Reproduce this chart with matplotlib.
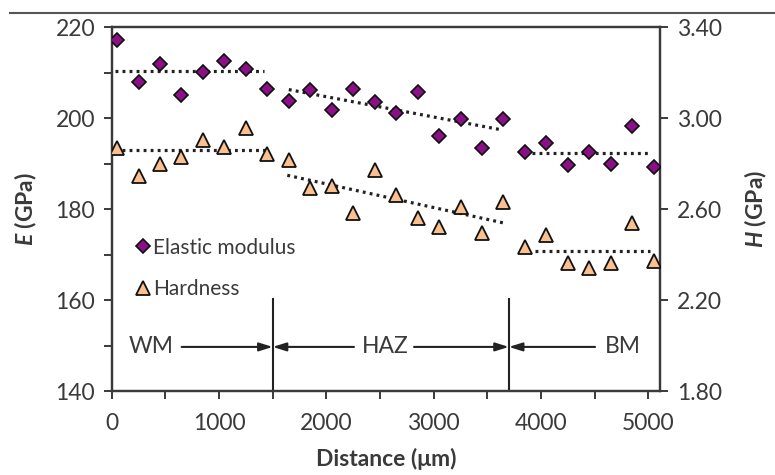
import matplotlib
matplotlib.use("Agg")
import matplotlib.pyplot as plt
from matplotlib.lines import Line2D
from matplotlib.ticker import MultipleLocator, FixedLocator

plt.rcParams['font.family'] = ['Lato', 'DejaVu Sans']
plt.rcParams['mathtext.fontset'] = 'custom'
plt.rcParams['mathtext.it'] = 'Lato:italic:bold'
plt.rcParams['mathtext.rm'] = 'Lato:bold'

# ---- data ----
distance = [50, 250, 450, 650, 850, 1050, 1250, 1450, 1650, 1850, 2050, 2250, 2450,
            2650, 2850, 3050, 3250, 3450, 3650, 3850, 4050, 4250, 4450, 4650, 4850, 5050]
modulus = [217.3, 208.0, 211.9, 205.1, 210.2, 212.6, 210.9, 206.5, 203.7, 206.2, 201.8,
           206.5, 203.6, 201.2, 205.8, 196.0, 199.8, 193.5, 199.8, 192.6, 194.6, 189.7,
           192.6, 190.0, 198.2, 189.3]
hardness = [2.87, 2.745, 2.798, 2.83, 2.906, 2.874, 2.955, 2.842, 2.816, 2.691, 2.70,
            2.581, 2.771, 2.662, 2.559, 2.522, 2.608, 2.493, 2.632, 2.432, 2.486, 2.364,
            2.34, 2.364, 2.54, 2.372]

# trend lines (x-start, x-end, y-start, y-end)
mod_trends = [(30, 1420, 210.4, 210.4), (1650, 3620, 206.3, 197.5), (3913, 5015, 192.45, 192.45)]
hard_trends = [(30, 1434, 2.859, 2.859), (1636, 3674, 2.749, 2.537), (3944, 5015, 2.415, 2.415)]

boundaries = [1500, 3700]
zones = ['WM', 'HAZ', 'BM']
zone_text_x = [367, 2547, 4766]

x_ticks = [0, 1000, 2000, 3000, 4000, 5000]
e_ticks = [140, 160, 180, 200, 220]
h_ticks = [1.80, 2.20, 2.60, 3.00, 3.40]

# ---- style ----
dark = '#3a3a3a'
purple = '#8B0F86'
peach = '#FAC090'
fs = 16.5

fig = plt.figure(figsize=(7.75, 4.75), dpi=100)
ax = fig.add_axes([0.1441, 0.1768, 0.7075, 0.7657])
ax2 = ax.twinx()

ax.set_xlim(0, 5108)
ax.set_ylim(140, 220)
ax2.set_ylim(1.80, 3.40)

# dotted trend lines
for x0, x1, y0, y1 in mod_trends:
    ax2.plot([x0, x1], [1.8 + (y0 - 140) * 0.02, 1.8 + (y1 - 140) * 0.02],
             color='#222222', lw=2.3, ls=(0, (0.9, 1.3)), zorder=2)
for x0, x1, y0, y1 in hard_trends:
    ax2.plot([x0, x1], [y0, y1], color='#222222', lw=2.3, ls=(0, (0.9, 1.3)), zorder=2)

ax2.plot(distance, hardness, ls='none', marker='^', ms=9.5, mfc=peach, mec='#111111',
         mew=1.3, zorder=3)
modulus_h = [1.8 + (m - 140) * 0.02 for m in modulus]  # same position on the twin scale
ax2.plot(distance, modulus_h, ls='none', marker='D', ms=6.8, mfc=purple, mec='#111111',
         mew=1.2, zorder=4)

# zone boundaries
for b in boundaries:
    ax.plot([b, b], [140, 160.3], color='#222222', lw=1.5, zorder=2)

arrow_kw = dict(arrowstyle='-|>,head_length=0.8,head_width=0.25', lw=1.5,
                color='#222222', shrinkA=0, shrinkB=0)
ay = 149.7
ax.annotate('', xy=(boundaries[0], ay), xytext=(652, ay), arrowprops=arrow_kw)
ax.annotate('', xy=(boundaries[0], ay), xytext=(2257, ay), arrowprops=arrow_kw)
ax.annotate('', xy=(boundaries[1], ay), xytext=(2817, ay), arrowprops=arrow_kw)
ax.annotate('', xy=(boundaries[1], ay), xytext=(4503, ay), arrowprops=arrow_kw)
for z, zx in zip(zones, zone_text_x):
    ax.text(zx, ay, z, ha='center', va='center', fontsize=fs, color=dark)

# legend
handles = [Line2D([], [], ls='none', marker='D', ms=6.8, mfc=purple, mec='#111111', mew=1.2),
           Line2D([], [], ls='none', marker='^', ms=9.5, mfc=peach, mec='#111111', mew=1.3)]
leg = ax2.legend(handles, ['Elastic modulus', 'Hardness'], loc='upper left',
                 bbox_to_anchor=(0.043, 0.422), frameon=False, fontsize=15,
                 handlelength=0.7, handletextpad=0.15, labelspacing=1.05, borderpad=0,
                 borderaxespad=0, labelcolor=dark)

# ticks & spines
ax.xaxis.set_major_locator(FixedLocator(x_ticks))
ax.xaxis.set_minor_locator(MultipleLocator(500))
ax.yaxis.set_major_locator(FixedLocator(e_ticks))
ax.yaxis.set_minor_locator(MultipleLocator(10))
ax2.yaxis.set_major_locator(FixedLocator(h_ticks))
ax2.set_yticklabels([f'{v:.2f}' for v in h_ticks])

for a in (ax, ax2):
    for s in a.spines.values():
        s.set_color(dark)
        s.set_linewidth(1.6)
ax.tick_params(axis='both', which='both', direction='out', length=6, width=1.4,
               color=dark, labelcolor=dark, labelsize=fs)
ax.tick_params(axis='x', pad=10)
ax.tick_params(axis='y', pad=6)
ax2.tick_params(axis='y', which='both', direction='out', length=6, width=1.4,
                color=dark, labelcolor=dark, labelsize=fs, pad=6)

ax.set_xlabel('Distance (μm)', fontsize=fs, fontweight='bold', color=dark, labelpad=10)
ax.set_ylabel(r'$E$ (GPa)', fontsize=fs, fontweight='bold', color=dark, labelpad=12)
ax2.set_ylabel(r'$H$ (GPa)', fontsize=fs, fontweight='bold', color=dark, labelpad=15)

# thin rule at top of figure
fig.add_artist(Line2D([10 / 775, 1.0], [1 - 13 / 475, 1 - 13 / 475], color='#555555',
                      lw=1.5, transform=fig.transFigure))

fig.savefig('out.png', dpi=100)
